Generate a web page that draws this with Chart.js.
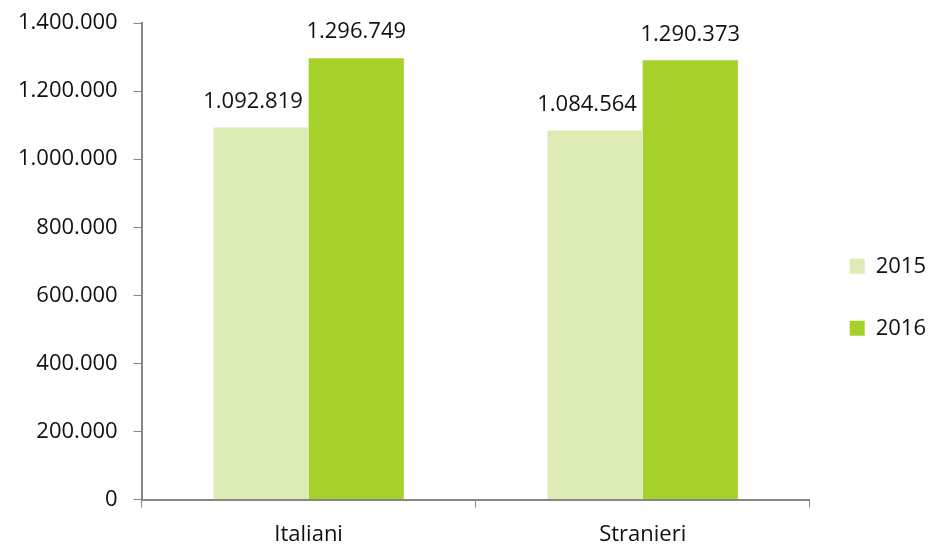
<!DOCTYPE html>
<html>
<head>
<meta charset="utf-8">
<script src="https://cdn.jsdelivr.net/npm/chart.js@4"></script>
<style>
  html, body { margin: 0; padding: 0; background: #fff; }
  #wrap { width: 932px; height: 549px; }
</style>
</head>
<body>
<div id="wrap"><canvas id="myChart" width="932" height="549"></canvas></div>
<script>
var categories = ['Italiani', 'Stranieri'];
var years = ['2015', '2016'];
var values2015 = [1092819, 1084564];
var values2016 = [1296749, 1290373];
var colors = ['#ddecb5', '#a6d02a'];

function fmt(v) {
    return String(v).replace(/\B(?=(\d{3})+(?!\d))/g, '.');
}

var fontFamily = "'Open Sans', 'Noto Sans', sans-serif";

// value labels above each bar
var valueLabels = {
    id: 'valueLabels',
    afterDatasetsDraw: function(chart) {
        var ctx = chart.ctx;
        ctx.save();
        ctx.font = '22px ' + fontFamily;
        ctx.fillStyle = '#111';
        ctx.textAlign = 'center';
        ctx.textBaseline = 'middle';
        chart.data.datasets.forEach(function(ds, i) {
            var meta = chart.getDatasetMeta(i);
            meta.data.forEach(function(bar, j) {
                var dx = i == 0 ? -8 : 0;
                ctx.fillText(fmt(ds.data[j]), bar.x + dx, bar.y - 26);
            });
        });
        ctx.restore();
    }
};

var ctx = document.getElementById('myChart').getContext('2d');
var myChart = new Chart(ctx, {
    type: 'bar',
    data: {
        labels: categories,
        datasets: [
            { label: years[0], data: values2015, backgroundColor: colors[0], barPercentage: 1, categoryPercentage: 0.57 },
            { label: years[1], data: values2016, backgroundColor: colors[1], barPercentage: 1, categoryPercentage: 0.57 }
        ]
    },
    options: {
        responsive: false,
        animation: false,
        layout: { autoPadding: false, padding: { top: 23, left: 2, right: -4, bottom: -13 } },
        plugins: {
            tooltip: { enabled: false },
            legend: {
                position: 'right',
                title: { display: true, text: ' ', font: { size: 8 }, padding: 0 },
                labels: {
                    boxWidth: 15,
                    boxHeight: 15,
                    padding: 40,
                    color: '#111',
                    font: { family: fontFamily, size: 22 }
                }
            }
        },
        scales: {
            x: {
                grid: { drawOnChartArea: false, drawTicks: true, tickLength: 8, color: '#868686', offset: true },
                border: { color: '#868686', width: 2 },
                ticks: { color: '#111', padding: 14, font: { family: fontFamily, size: 22 } }
            },
            y: {
                min: 0,
                max: 1400000,
                grid: { drawOnChartArea: false, drawTicks: true, tickLength: 8, color: '#868686' },
                border: { color: '#868686', width: 2 },
                ticks: {
                    stepSize: 200000,
                    color: '#111',
                    padding: 16,
                    font: { family: fontFamily, size: 22 },
                    callback: function(v) { return fmt(v); }
                },
                afterFit: function(scale) {
                    scale.paddingTop = 0;
                    scale.paddingBottom = 0;
                }
            }
        }
    },
    plugins: [valueLabels]
});
</script>
</body>
</html>
